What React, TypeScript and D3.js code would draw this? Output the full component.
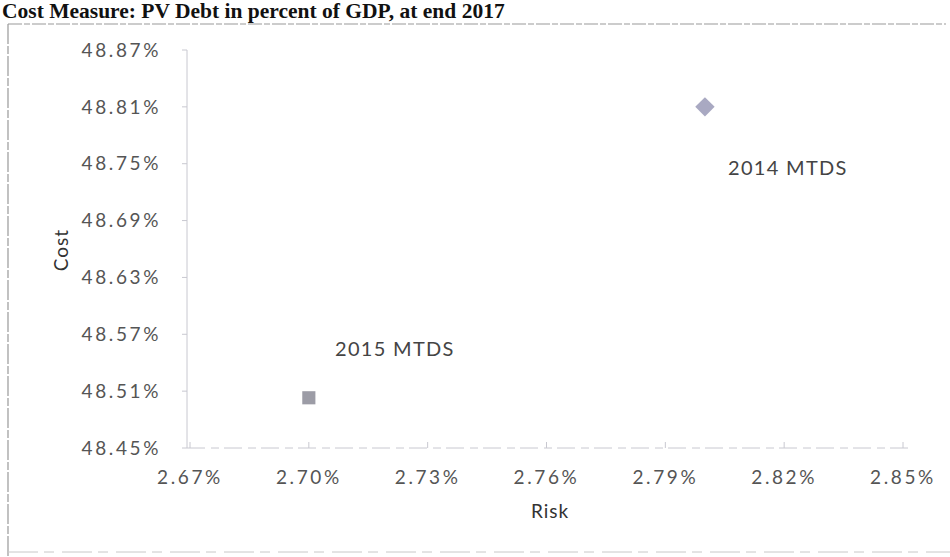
import React from "react";
import * as d3 from "d3";

const TITLE = "Cost Measure: PV Debt in percent of GDP, at end 2017";
const xTicks = [2.67, 2.7, 2.73, 2.76, 2.79, 2.82, 2.85];
const yTicks = [48.45, 48.51, 48.57, 48.63, 48.69, 48.75, 48.81, 48.87];
const pointNames = ["2014 MTDS", "2015 MTDS"];
const riskValues = [2.8, 2.7];
const costValues = [48.81, 48.503];
const pointShapes = ["diamond", "square"];
const pointColors = ["#a9a9c2", "#9c9ca6"];

const W = 950;
const H = 557;
const x = d3.scaleLinear().domain([2.67, 2.85]).range([190, 903]);
const y = d3.scaleLinear().domain([48.45, 48.87]).range([448, 50]);
const FONT = "Lato, 'Open Sans', sans-serif";

export default function App() {
  const diamond = d3.symbol().type(d3.symbolDiamond2).size(240)();
  const square = d3.symbol().type(d3.symbolSquare2).size(220)();
  return (
    <svg
      width={W}
      height={H}
      style={{ position: "absolute", left: 0, top: 0, background: "#fff" }}
    >
      <rect x={0} y={0} width={W} height={H} fill="#fff" />
      <text
        x={2}
        y={18}
        fontFamily="'Liberation Serif', 'Times New Roman', serif"
        fontWeight="bold"
        fontSize={21.5}
        fill="#111"
      >
        {TITLE}
      </text>
      {/* frame */}
      <line x1={8} x2={946} y1={24} y2={24} stroke="#999" strokeWidth={1.2} strokeDasharray="14 2 6 2" />
      <line x1={8} x2={8} y1={24} y2={H} stroke="#999" strokeWidth={1.2} strokeDasharray="20 2 8 2" />
      <line x1={8} x2={W} y1={552} y2={552} stroke="#c8c8c8" strokeWidth={1} strokeDasharray="30 6 10 8" />

      {/* y axis */}
      <line x1={x(2.67) - 3} x2={x(2.67) - 3} y1={y(48.87)} y2={y(48.45)} stroke="#c8c8d0" strokeWidth={1} />
      {yTicks.map((t) => (
        <g key={t}>
          <line x1={x(2.67) - 8} x2={x(2.67) - 3} y1={y(t)} y2={y(t)} stroke="#c8c8d0" />
          <text
            x={161}
            y={y(t)}
            dy="0.35em"
            textAnchor="end"
            fontFamily={FONT}
            fontSize={19}
            letterSpacing={2.6}
            fill="#555"
          >
            {t.toFixed(2) + "%"}
          </text>
        </g>
      ))}
      {/* x axis */}
      <line x1={x(2.67) - 3} x2={910} y1={y(48.45)} y2={y(48.45)} stroke="#c8c8d0" strokeWidth={1} strokeDasharray="18 6 8 5" />
      {xTicks.map((t) => (
        <g key={t}>
          <line x1={x(t)} x2={x(t)} y1={y(48.45) - 6} y2={y(48.45)} stroke="#c8c8d0" />
          <text
            x={x(t)}
            y={477}
            dy="0.35em"
            textAnchor="middle"
            fontFamily={FONT}
            fontSize={19}
            letterSpacing={2.6}
            fill="#555"
          >
            {t.toFixed(2) + "%"}
          </text>
        </g>
      ))}
      <text
        x={550}
        y={511}
        dy="0.35em"
        textAnchor="middle"
        fontFamily={FONT}
        fontSize={19}
        letterSpacing={1}
        fill="#333"
      >
        Risk
      </text>
      <text
        transform={`translate(61,250) rotate(-90)`}
        dy="0.35em"
        textAnchor="middle"
        fontFamily={FONT}
        fontSize={19}
        letterSpacing={1}
        fill="#333"
      >
        Cost
      </text>

      {/* points */}
      {pointNames.map((n, i) => (
        <path
          key={n}
          d={pointShapes[i] === "diamond" ? diamond : square}
          transform={`translate(${x(riskValues[i])},${y(costValues[i])})`}
          fill={pointColors[i]}
        />
      ))}
      <text x={728} y={168} dy="0.35em" fontFamily={FONT} fontSize={20} letterSpacing={1.3} fill="#444">
        {pointNames[0]}
      </text>
      <text x={335} y={349} dy="0.35em" fontFamily={FONT} fontSize={20} letterSpacing={1.3} fill="#444">
        {pointNames[1]}
      </text>
    </svg>
  );
}
